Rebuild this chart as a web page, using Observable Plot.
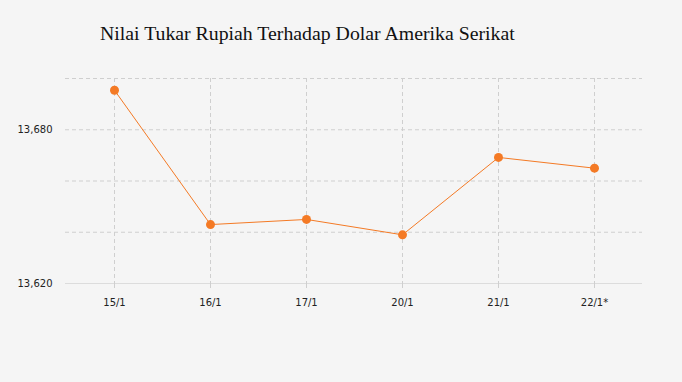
<!DOCTYPE html>
<html><head><meta charset="utf-8">
<script src="https://cdn.jsdelivr.net/npm/d3@7"></script>
<script src="https://cdn.jsdelivr.net/npm/@observablehq/plot@0.6"></script>
<style>
body{margin:0;background:#f5f5f5;width:682px;height:382px;overflow:hidden}
#title{height:60px;box-sizing:border-box;padding:21px 0 0 100px;font-family:"Liberation Serif","Times New Roman",serif;font-size:19.8px;line-height:24px;color:#111}
</style></head><body>
<div id="title">Nilai Tukar Rupiah Terhadap Dolar Amerika Serikat</div>
<div id="chart"></div>
<script>
const dates = ["15/1","16/1","17/1","20/1","21/1","22/1*"];
const rates = [13695.4, 13643, 13645, 13639, 13669.2, 13665];
const gridValues = [13640, 13660, 13680, 13700];
const yTickLabels = [13620, 13680];
const data = dates.map((d,i)=>({date:d, rate:rates[i]}));
const orange = "#f47a25";
const chart = Plot.plot({
  width:682, height:322,
  marginLeft:65, marginRight:40, marginTop:18, marginBottom:99,
  style:{background:"#f5f5f5", fontFamily:"DejaVu Sans, Verdana, sans-serif", fontSize:"10px", color:"#222"},
  x:{type:"point", domain:dates, padding:0.5, label:null},
  y:{domain:[13620,13700], label:null},
  marks:[
    Plot.ruleY(gridValues,{stroke:"#cfcfcf", strokeDasharray:"4,3"}),
    Plot.ruleY([13620],{stroke:"#dcdcdc"}),
    Plot.ruleX(dates,{stroke:"#cfcfcf", strokeDasharray:"4,3"}),
    Plot.axisX({tickSize:5, tickPadding:10, stroke:"#cfcfcf", fontSize:10}),
    Plot.axisY({ticks:yTickLabels, tickSize:0, tickPadding:13, tickFormat:d3.format(","), fontSize:10}),
    Plot.line(data,{x:"date", y:"rate", stroke:orange, strokeWidth:1}),
    Plot.dot(data,{x:"date", y:"rate", r:4.5, fill:orange, stroke:"none"})
  ]
});
document.getElementById("chart").appendChild(chart);
</script>
</body></html>
